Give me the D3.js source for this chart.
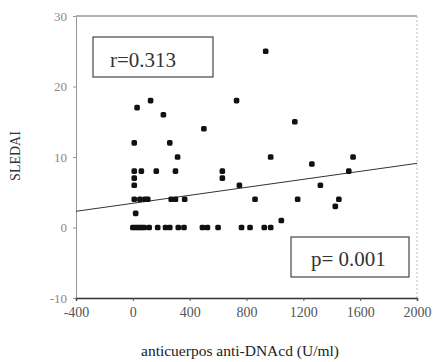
<!DOCTYPE html>
<html>
<head>
<meta charset="utf-8">
<script src="https://cdn.jsdelivr.net/npm/d3@7"></script>
<style>
  body { margin: 0; background: #fff; }
  text { font-family: "Liberation Serif", "DejaVu Serif", serif; }
</style>
</head>
<body>
<svg id="chart" width="433" height="362"></svg>
<script>
// anti-DNAcd (U/ml) vs SLEDAI
const antiDNA = [
  30, 125, 215, 500, 10, 260, 315,
  10, 60, 165, 300, 630,
  10, 630,
  10,
  10, 50, 85, 105, 270, 300, 365,
  20,
  0, 20, 40, 60, 80, 115, 175, 230, 260, 320, 360, 490, 525, 600, 765, 825, 925, 970,
  935, 730, 1140, 970, 1260, 750, 1320, 860, 1160, 1045, 1550, 1520, 1450, 1425
];
const sledai = [
  17, 18, 16, 14, 12, 12, 10,
  8, 8, 8, 8, 8,
  7, 7,
  6,
  4, 4, 4, 4, 4, 4, 4,
  2,
  0, 0, 0, 0, 0, 0, 0, 0, 0, 0, 0, 0, 0, 0, 0, 0, 0, 0,
  25, 18, 15, 10, 9, 6, 6, 4, 4, 1, 10, 8, 4, 3
];
const xTicks = [-400, 0, 400, 800, 1200, 1600, 2000];
const yTicks = [-10, 0, 10, 20, 30];
const fitX = [-400, 2000];
const fitY = [2.3, 9.1];
const rLabel = "r=0.313";
const pLabel = "p= 0.001";

const svg = d3.select("#chart");
const plot = { left: 76, right: 417, top: 16, bottom: 298 };
const serif = "'Liberation Serif', 'DejaVu Serif', serif";

const x = d3.scaleLinear().domain([-400, 2000]).range([plot.left, plot.right]);
const y = d3.scaleLinear().domain([-10, 30]).range([plot.bottom, plot.top]);

// frame lines
svg.append("line")
  .attr("x1", plot.left).attr("x2", plot.right)
  .attr("y1", plot.top).attr("y2", plot.top)
  .attr("stroke", "#666").attr("stroke-width", 1);
svg.append("line")
  .attr("x1", plot.right).attr("x2", plot.right)
  .attr("y1", plot.top).attr("y2", plot.bottom)
  .attr("stroke", "#bbb").attr("stroke-width", 1).attr("stroke-dasharray", "2,2");

// y axis
const yAxis = svg.append("g")
  .attr("transform", `translate(${plot.left},0)`)
  .call(d3.axisLeft(y).tickValues(yTicks).tickFormat(d => String(d))
    .tickSize(3).tickPadding(6))
  .attr("font-family", serif)
  .attr("font-size", 13);
yAxis.select(".domain").attr("stroke", "#999");
yAxis.selectAll(".tick line").attr("stroke", "#999");
yAxis.selectAll("text").attr("fill", "#888");

// x axis
const xAxis = svg.append("g")
  .attr("transform", `translate(0,${plot.bottom})`)
  .call(d3.axisBottom(x).tickValues(xTicks).tickFormat(d => String(d))
    .tickSize(3).tickPadding(6))
  .attr("font-family", serif)
  .attr("font-size", 14);
xAxis.select(".domain").attr("stroke", "#333").attr("stroke-width", 1.5);
xAxis.selectAll(".tick line").attr("stroke", "#555");
xAxis.selectAll("text").attr("fill", "#555");

// regression line
svg.append("line")
  .attr("x1", x(fitX[0])).attr("y1", y(fitY[0]))
  .attr("x2", x(fitX[1])).attr("y2", y(fitY[1]))
  .attr("stroke", "#333").attr("stroke-width", 1);

// points
svg.append("g")
  .selectAll("rect")
  .data(antiDNA.map((d, i) => [d, sledai[i]]))
  .join("rect")
  .attr("x", d => x(d[0]) - 2.8)
  .attr("y", d => y(d[1]) - 2.8)
  .attr("width", 5.6)
  .attr("height", 5.6)
  .attr("rx", 1.6)
  .attr("fill", "#111");

// annotation boxes
svg.append("rect")
  .attr("x", 93).attr("y", 37).attr("width", 120).attr("height", 40)
  .attr("fill", "#fff").attr("stroke", "#444").attr("stroke-width", 1.2);
svg.append("text")
  .attr("x", 110).attr("y", 67)
  .attr("fill", "#333").style("font-size", "21px")
  .text(rLabel);

svg.append("rect")
  .attr("x", 291).attr("y", 237).attr("width", 118).attr("height", 40)
  .attr("fill", "#fff").attr("stroke", "#444").attr("stroke-width", 1.2);
svg.append("text")
  .attr("x", 311).attr("y", 266)
  .attr("fill", "#333").style("font-size", "21px")
  .text(pLabel);

// axis titles
svg.append("text")
  .attr("transform", "translate(20,156) rotate(-90)")
  .attr("text-anchor", "middle")
  .attr("fill", "#333").style("font-size", "14px")
  .text("SLEDAI");

svg.append("text")
  .attr("x", 240).attr("y", 356)
  .attr("text-anchor", "middle")
  .attr("fill", "#222").style("font-size", "15.5px")
  .text("anticuerpos anti-DNAcd (U/ml)");
</script>
</body>
</html>
